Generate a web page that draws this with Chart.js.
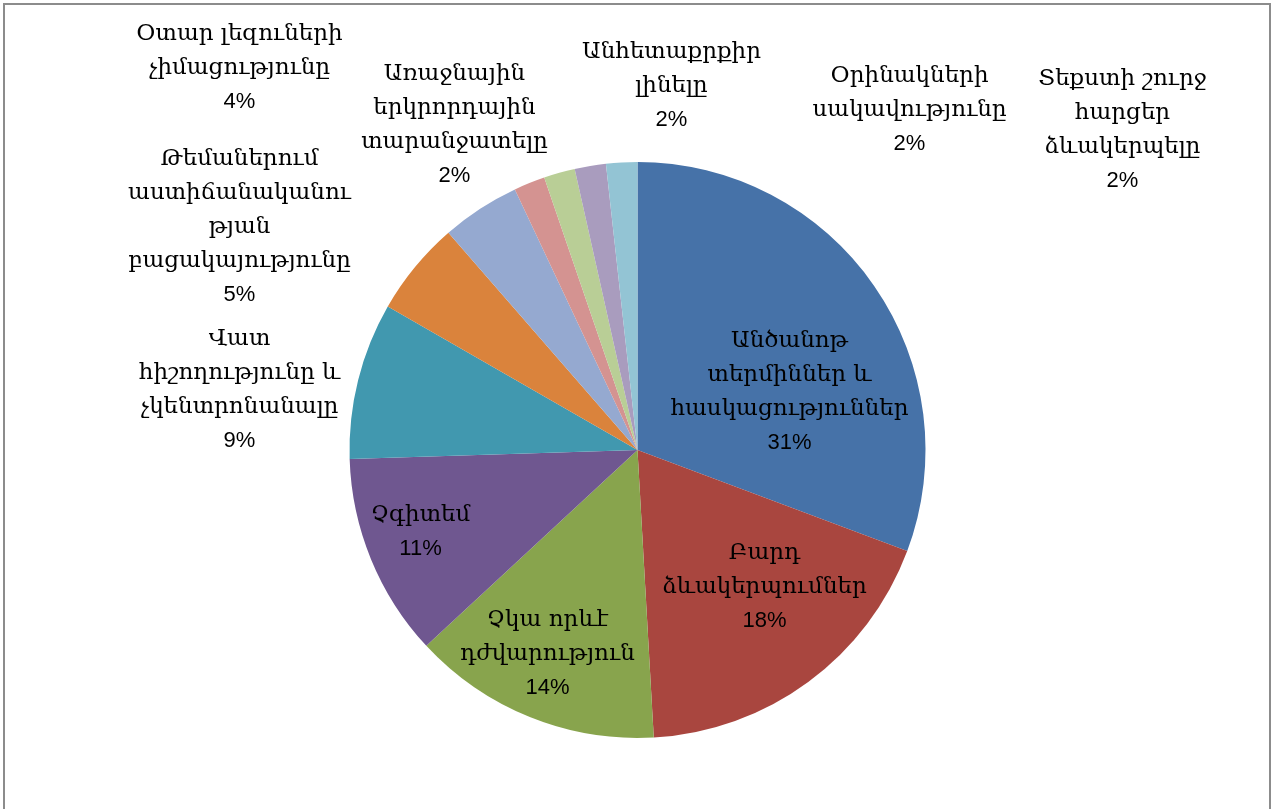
<!DOCTYPE html>
<html>
<head>
<meta charset="utf-8">
<script src="https://cdn.jsdelivr.net/npm/chart.js@4"></script>
<style>
  html, body { margin: 0; padding: 0; background: #fff; overflow: hidden; }
  #pieChart { display: block; }
</style>
</head>
<body>
<canvas id="pieChart" width="1275" height="809"></canvas>
<script>
// kategoriyaner (toghery bazhanvac en tokosi patkerman hamar)
const categories = [
    ['Անծանոթ', 'տերմիններ և', 'հասկացություններ'],
    ['Բարդ', 'ձևակերպումներ'],
    ['Չկա որևէ', 'դժվարություն'],
    ['Չգիտեմ'],
    ['Վատ', 'հիշողությունը և', 'չկենտրոնանալը'],
    ['Թեմաներում', 'աստիճանականու', 'թյան', 'բացակայությունը'],
    ['Օտար լեզուների', 'չիմացությունը'],
    ['Առաջնային', 'երկրորդային', 'տարանջատելը'],
    ['Անհետաքրքիր', 'լինելը'],
    ['Օրինակների', 'սակավությունը'],
    ['Տեքստի շուրջ', 'հարցեր', 'ձևակերպելը']
];

// tokosner (slice-eri chaperic gnahatvac, label-um klorecvac)
const percents = [30.7, 18.4, 14.0, 11.4, 8.8, 5.3, 4.4, 1.75, 1.75, 1.75, 1.75];

const colors = [
    '#4672A8', '#A9463F', '#88A44D', '#6F5790', '#4198AF',
    '#DA833C', '#95A9D0', '#D49391', '#B9CE96', '#A99CBE', '#93C4D4'
];

// label-neri kentronner, shexum pie-i kentronic
const labelPos = [
    { dx: 152, dy: -58 },
    { dx: 127, dy: 137 },
    { dx: -90, dy: 204 },
    { dx: -217, dy: 82 },
    { dx: -398, dy: -60 },
    { dx: -398, dy: -223 },
    { dx: -398, dy: -382 },
    { dx: -183, dy: -325 },
    { dx: 34, dy: -364 },
    { dx: 272, dy: -340 },
    { dx: 485, dy: -320 }
];

const lineH = 34;

const labelPlugin = {
    id: 'sliceLabels',
    beforeDraw(chart) {
        const c = chart.ctx;
        c.save();
        c.strokeStyle = '#8c8c8c';
        c.lineWidth = 2;
        c.strokeRect(4, 4, 1266, 830);
        c.restore();
    },
    afterDatasetsDraw(chart) {
        const c = chart.ctx;
        const meta = chart.getDatasetMeta(0);
        c.save();
        c.fillStyle = '#000';
        c.textAlign = 'center';
        c.textBaseline = 'middle';
        meta.data.forEach((arc, i) => {
            const lines = categories[i];
            const p = labelPos[i];
            const x = arc.x + p.dx;
            const y = arc.y + p.dy;
            const top = y - lines.length * lineH / 2;
            c.font = '23px "DejaVu Serif"';
            lines.forEach((t, k) => c.fillText(t, x, top + k * lineH));
            c.font = '22px "Liberation Sans"';
            c.fillText(Math.round(percents[i]) + '%', x, top + lines.length * lineH);
        });
        c.restore();
    }
};

new Chart(document.getElementById('pieChart'), {
    type: 'pie',
    data: {
        labels: categories.map(l => l.join(' ')),
        datasets: [{
            data: percents,
            backgroundColor: colors,
            borderWidth: 0
        }]
    },
    options: {
        responsive: false,
        animation: false,
        layout: { padding: { top: 162, bottom: 71, left: 0, right: 0 } },
        plugins: {
            legend: { display: false },
            tooltip: { enabled: false }
        }
    },
    plugins: [labelPlugin]
});
</script>
</body>
</html>
